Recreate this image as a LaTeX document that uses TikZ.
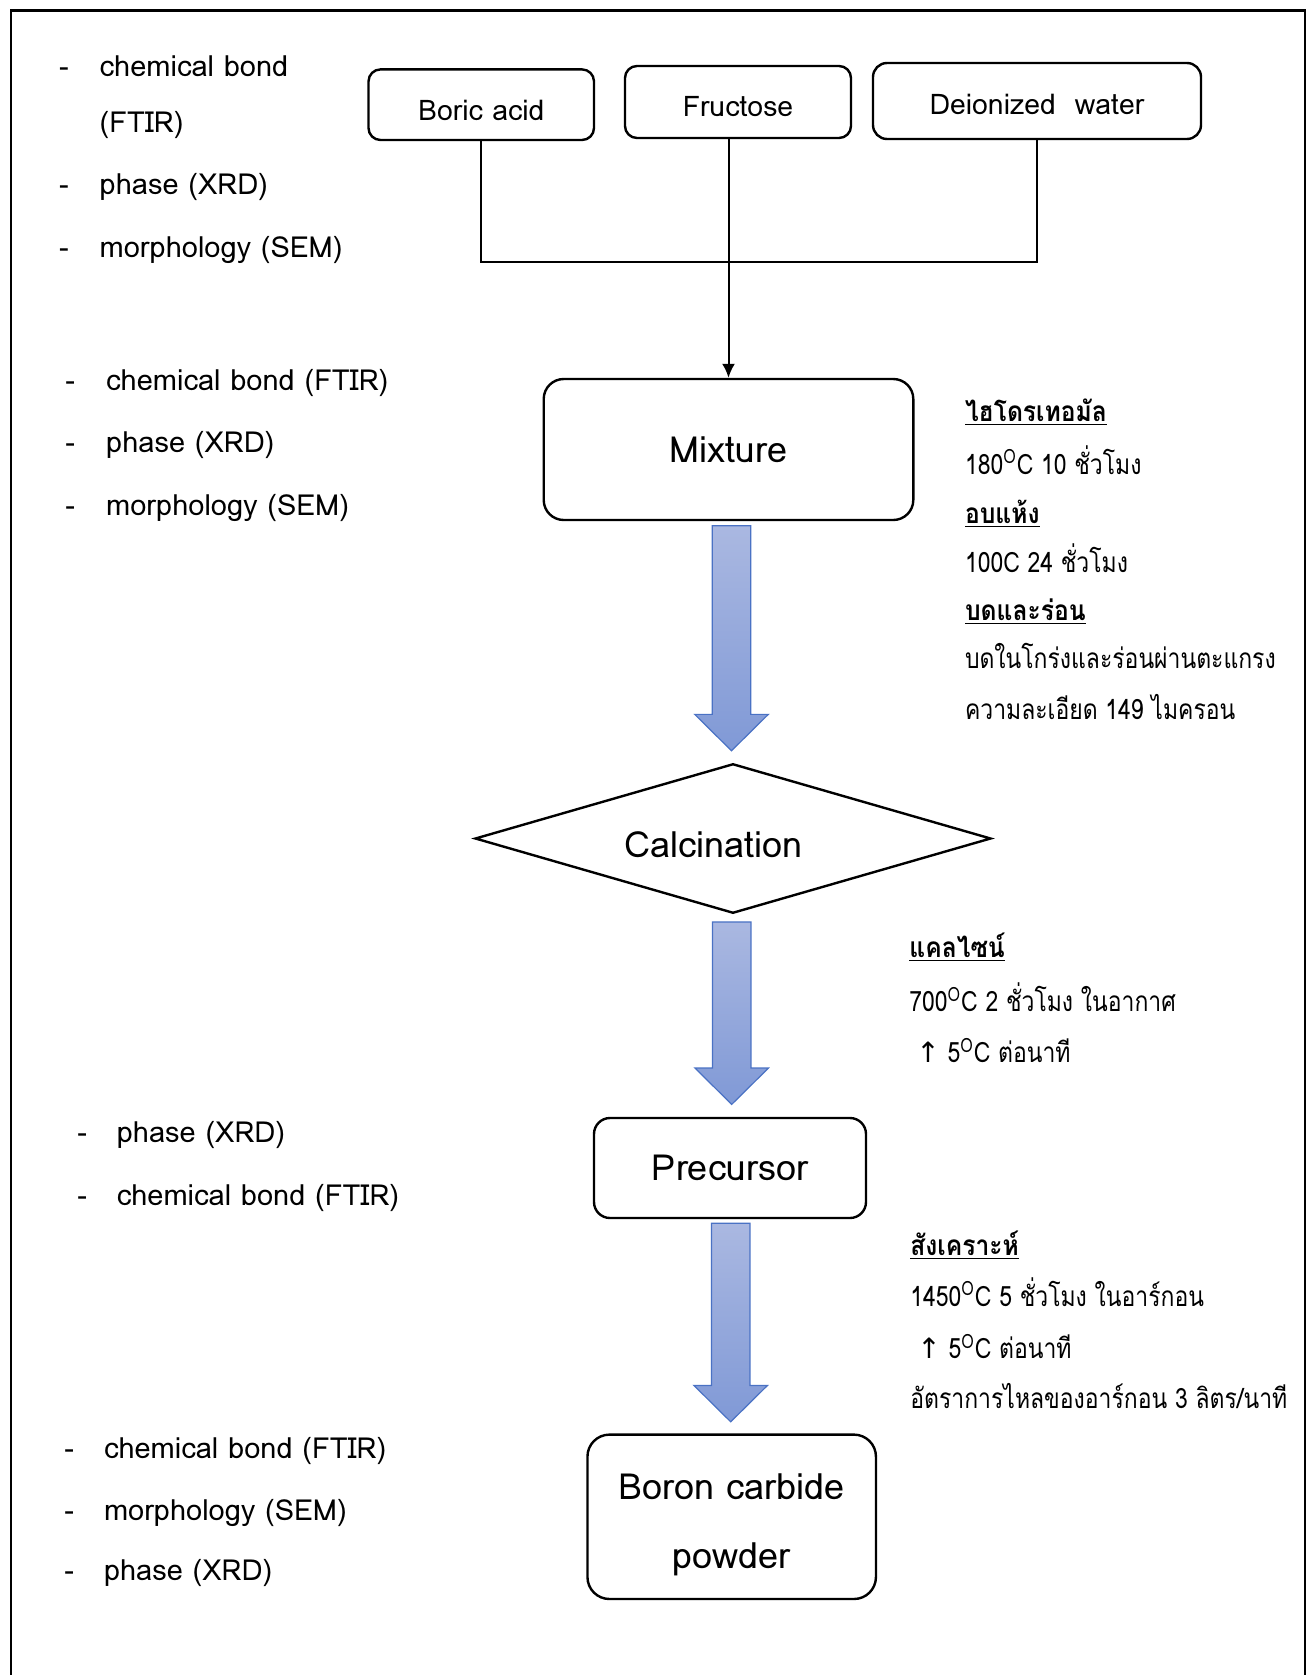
\documentclass[tikz,border=0pt]{standalone}
\usepackage{fontspec}
\setmainfont[Script=Thai]{Loma}
\newfontfamily\thaistretch[Script=Thai, FakeStretch=0.82]{Loma}
\newfontfamily\thaihead[Script=Thai, FakeStretch=0.88]{Loma}
\newfontfamily\symfont{DejaVu Sans}
\usetikzlibrary{shapes.geometric,calc,arrows.meta}
\definecolor{arrfilltop}{RGB}{170,184,225}
\definecolor{arrfillbot}{RGB}{128,153,214}
\definecolor{arrline}{RGB}{74,114,196}
\newcommand\degsign{\textsuperscript{O}}
\newcommand\uparr{{\symfont ↑}}
\newcommand\fatarr[2]{%
  \path[fatarrow] let \p1=#1, \p2=#2 in
   (\x1-9.6pt,\y1) -- (\x1+9.6pt,\y1) -- (\x1+9.6pt,\y2+18.2pt) -- (\x1+18.4pt,\y2+18.2pt)
   -- (\x1,\y2) -- (\x1-18.4pt,\y2+18.2pt) -- (\x1-9.6pt,\y2+18.2pt) -- cycle;}
\begin{document}
\begin{tikzpicture}[x=0.5pt,y=-0.5pt,
  box/.style={draw, line width=1.2pt, align=center, inner sep=0pt},
  conn/.style={line width=1pt},
  dashitem/.style={anchor=mid west, inner sep=0pt, font=\fontsize{14.5}{18}\selectfont},
  lefttext/.style={anchor=mid west, inner sep=0pt, font=\fontsize{14.5}{18}\selectfont},
  righttext/.style={anchor=mid west, inner sep=0pt, font=\thaistretch\fontsize{14}{17}\selectfont},
  righthead/.style={anchor=mid west, inner sep=0pt, font=\thaihead\fontsize{14}{17}\selectfont\bfseries},
  fatarrow/.style={draw=arrline, line width=0.6pt, top color=arrfilltop, bottom color=arrfillbot}]

\useasboundingbox (0,0) rectangle (1315,1675);
\draw[line width=1.2pt] (10.7,1675) -- (10.7,10.7) -- (1305,10.7) -- (1305,1675);

% top boxes
\node[box, rounded corners=6pt, minimum width=112.75pt, minimum height=35.3pt] (boric) at (481.25,104.7) {};
\node[inner sep=0pt, font=\fontsize{14.2}{16}\selectfont] (boricl) at (481.25,110) {Boric acid};
\node[box, rounded corners=6pt, minimum width=113pt, minimum height=36pt] (fruct) at (738,102) {};
\node[inner sep=0pt, font=\fontsize{14.2}{16}\selectfont] (fructl) at (738,107) {Fructose};
\node[box, rounded corners=7pt, minimum width=164pt, minimum height=38pt] (dw) at (1037,101) {};
\node[inner sep=0pt, font=\fontsize{14.2}{16}\selectfont] (dwl) at (1037,104) {Deionized~~water};

% main column
\node[box, rounded corners=10pt, minimum width=184.8pt, minimum height=70.5pt, font=\fontsize{18}{20}\selectfont] (mix) at (728.5,449.5) {Mixture};
\node[draw, line width=1.2pt, diamond, inner sep=0pt, minimum width=258pt, minimum height=74.75pt] (cal) at (733,838.5) {};
\node[inner sep=0pt, font=\fontsize{18}{20}\selectfont] (call) at (714,845) {Calcination};
\node[box, rounded corners=8pt, minimum width=136pt, minimum height=50pt, font=\fontsize{18}{20}\selectfont] (prec) at (730,1168) {Precursor};
\node[box, rounded corners=11pt, minimum width=144.25pt, minimum height=82.2pt] (boron) at (731.7,1516.8) {};
\node[inner sep=0pt, align=center, font=\fontsize{18}{34.7}\selectfont] (boronl) at (731.7,1525) {Boron carbide\\powder};

% connectors
\coordinate (join) at (0,261.7);
\draw[conn] (boric.south) -- (boric.south |- join) -- (dw.south |- join) -- (dw.south);
\draw[conn, -{Latex[length=7pt,width=6.5pt]}] (fruct.south -| mix.north) -- (mix.north);

\fatarr{($(mix.south)+(3,4.5)$)}{($(cal.north)+(0,-11.8)$)}
\fatarr{($(cal.south)+(-1.3,7.5)$)}{($(prec.north)+(0,-12.4)$)}
\fatarr{($(prec.south)+(0.7,4)$)}{($(boron.north)+(0,-11.6)$)}

% left lists
\node[dashitem] (d1a) at (58.8,71.7) {-};
\node[lefttext] (t1a) at (99.3,71.7) {chemical bond};
\node[lefttext] (t1b) at (99.3,127.3) {(FTIR)};
\node[dashitem] (d1c) at (58.8,189.2) {-};
\node[lefttext] (t1c) at (99.3,189.2) {phase (XRD)};
\node[dashitem] (d1d) at (58.8,252.3) {-};
\node[lefttext] (t1d) at (99.3,252.3) {morphology (SEM)};

\node[dashitem] (d2a) at (65,385.5) {-};
\node[lefttext] (t2a) at (105.8,385.5) {chemical bond (FTIR)};
\node[dashitem] (d2b) at (65,447.5) {-};
\node[lefttext] (t2b) at (105.8,447.5) {phase (XRD)};
\node[dashitem] (d2c) at (65,510.5) {-};
\node[lefttext] (t2c) at (105.8,510.5) {morphology (SEM)};

\node[dashitem] (d3a) at (77,1137.5) {-};
\node[lefttext] (t3a) at (116.4,1137.5) {phase (XRD)};
\node[dashitem] (d3b) at (77,1200.5) {-};
\node[lefttext] (t3b) at (116.4,1200.5) {chemical bond (FTIR)};

\node[dashitem] (d4a) at (64,1453) {-};
\node[lefttext] (t4a) at (103.6,1453) {chemical bond (FTIR)};
\node[dashitem] (d4b) at (64,1514.9) {-};
\node[lefttext] (t4b) at (103.6,1514.9) {morphology (SEM)};
\node[dashitem] (d4c) at (64,1575.5) {-};
\node[lefttext] (t4c) at (103.6,1575.5) {phase (XRD)};

% right notes
\node[righthead] (ra1) at (964.6,416.3) {\underline{ไฮโดรเทอมัล}};
\node[righttext] (ra2) at (964.6,469) {180\degsign C 10 ชั่วโมง};
\node[righthead] (ra3) at (964.6,518) {\underline{อบแห้ง}};
\node[righttext] (ra4) at (964.6,567.3) {100C 24 ชั่วโมง};
\node[righthead] (ra5) at (964.6,615.3) {\underline{บดและร่อน}};
\node[righttext] (ra6) at (964.6,663.3) {บดในโกร่งและร่อนผ่านตะแกรง};
\node[righttext] (ra7) at (964.6,714.3) {ความละเอียด 149 ไมครอน};

\node[righthead] (rb1) at (909,952.3) {\underline{แคลไซน์}};
\node[righttext] (rb2) at (909,1006.8) {700\degsign C 2 ชั่วโมง ในอากาศ};
\node[righttext] (rb3) at (916,1057.8) {\uparr\ 5\degsign C ต่อนาที};

\node[righthead] (rc1) at (910,1249.8) {\underline{สังเคราะห์}};
\node[righttext] (rc2) at (910,1301) {1450\degsign C 5 ชั่วโมง ในอาร์กอน};
\node[righttext] (rc3) at (917,1353.3) {\uparr\ 5\degsign C ต่อนาที};
\node[righttext] (rc4) at (910,1403.3) {อัตราการไหลของอาร์กอน 3 ลิตร/นาที};
\end{tikzpicture}
\end{document}
